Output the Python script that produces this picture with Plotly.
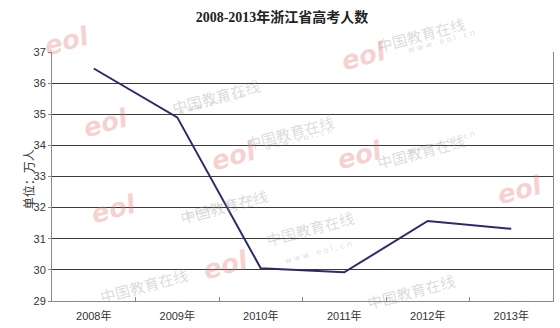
import plotly.graph_objects as go

years = ["2008年", "2009年", "2010年", "2011年", "2012年", "2013年"]
examinees = [36.47, 34.9, 30.05, 29.92, 31.57, 31.32]
y_ticks = [29, 30, 31, 32, 33, 34, 35, 36, 37]

W, H = 560, 328
L, R, T, B = 52, 553, 52, 301.5


def px(x):
    return (x - L) / (R - L)


def py(y):
    return (B - y) / (B - T)


fig = go.Figure()
fig.add_trace(go.Scatter(
    x=years, y=examinees, mode="lines",
    line=dict(color="#2c2a6c", width=2),
    hoverinfo="skip", showlegend=False,
))

annotations = []
# watermarks (eol logo + site text)
logos = [(38, 18), (392, 33), (77, 100), (205, 133), (388, 155), (85, 232),
         (548, 190), (225, 288)]
texts = [(470, 10), (167, 72), (290, 108), (470, 127), (175, 207), (310, 253),
         (95, 310), (460, 316)]
for (x, y) in logos:
    annotations.append(dict(
        x=px(x), y=py(y), xref="paper", yref="paper", showarrow=False,
        text="<b><i>eol</i></b>", textangle=-15,
        font=dict(family="DejaVu Sans", size=26, color="rgba(232,120,120,0.34)"),
    ))
for (x, y) in texts:
    annotations.append(dict(
        x=px(x), y=py(y), xref="paper", yref="paper", showarrow=False,
        text="中国教育在线", textangle=-15,
        font=dict(family="Noto Sans CJK SC", size=15, color="rgba(150,150,150,0.35)"),
    ))
    if y < 290:
        annotations.append(dict(
            x=px(x + 8), y=py(y + 16), xref="paper", yref="paper", showarrow=False,
            text="w w w . e o l . c n", textangle=-15,
            font=dict(family="DejaVu Sans", size=8, color="rgba(150,150,150,0.35)"),
        ))

# y-axis unit label
annotations.append(dict(
    x=px(18), y=py(180), xref="paper", yref="paper", showarrow=False,
    text="单位：万人", textangle=-90,
    font=dict(family="Noto Sans CJK SC", size=12, color="#333333"),
))

fig.update_layout(
    width=W, height=H,
    margin=dict(l=L, r=W - R, t=T, b=H - B),
    paper_bgcolor="white", plot_bgcolor="white",
    title=dict(
        text="<b>2008-2013年浙江省高考人数</b>",
        x=282 / W, xanchor="center", xref="container",
        y=1 - 17 / H, yanchor="middle", yref="container",
        font=dict(family="Liberation Serif, Noto Sans CJK SC", size=14, color="#222222"),
    ),
    annotations=annotations,
    xaxis=dict(
        type="category", range=[-0.5, 5.5],
        showgrid=False, showline=True, linecolor="#888888", linewidth=1,
        ticks="inside", ticklen=4, tickcolor="#888888", tickson="boundaries",
        tickfont=dict(family="Liberation Sans, Noto Sans CJK SC", size=11, color="#333333"),
        ticklabelstandoff=5,
    ),
    yaxis=dict(
        range=[29, 37], tickvals=y_ticks,
        showgrid=True, gridcolor="#3a3a3a", gridwidth=1,
        showline=True, linecolor="#888888", linewidth=1, mirror=True,
        ticks="outside", ticklen=3, tickcolor="#888888",
        tickfont=dict(family="Liberation Sans", size=11, color="#333333"),
        zeroline=False,
    ),
)

fig.write_html("out.html")
